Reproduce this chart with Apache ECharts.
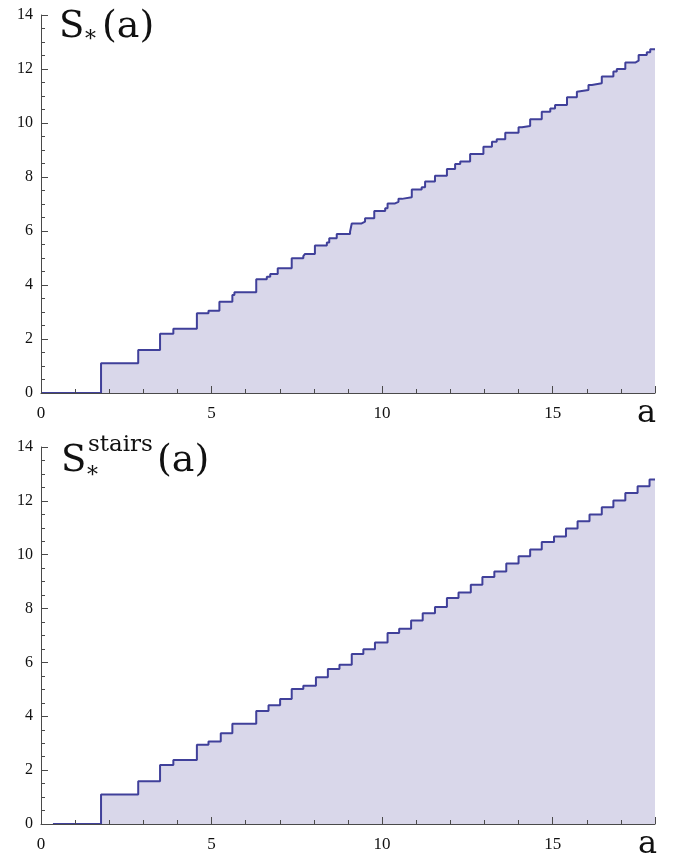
<!DOCTYPE html>
<html>
<head>
<meta charset="utf-8">
<script src="https://cdn.jsdelivr.net/npm/echarts@6/dist/echarts.min.js"></script>
<style>
html,body{margin:0;padding:0;background:#fff;}
#c{width:675px;height:857px;}
</style>
</head>
<body>
<div id="c"></div>
<script>
// S_*(a): jump positions (a) and the value reached at each jump
var topA = [0, 1.76, 2.85, 3.49, 3.88, 4.57, 4.91, 5.23, 5.61, 5.67, 6.31, 6.62, 6.72, 6.94, 7.35, 7.69, 7.74, 8.03, 8.38, 8.45, 8.67, 9.06, 9.11, 9.40, 9.50, 9.77, 10.09, 10.16, 10.38, 10.48, 10.58, 10.87, 11.16, 11.26, 11.55, 11.90, 12.14, 12.29, 12.58, 12.97, 13.22, 13.36, 13.61, 14.00, 14.10, 14.34, 14.68, 14.93, 15.07, 15.42, 15.71, 15.75, 16.05, 16.15, 16.44, 16.78, 16.88, 17.13, 17.42, 17.52, 17.76, 17.86, 18];
var topS = [0, 1.10, 1.59, 2.19, 2.38, 2.95, 3.05, 3.38, 3.63, 3.73, 4.21, 4.31, 4.41, 4.62, 4.99, 5.07, 5.15, 5.46, 5.57, 5.73, 5.89, 5.97, 6.28, 6.35, 6.47, 6.74, 6.84, 7.02, 7.08, 7.19, 7.25, 7.54, 7.62, 7.83, 8.05, 8.30, 8.48, 8.57, 8.85, 9.12, 9.31, 9.40, 9.64, 9.84, 9.89, 10.14, 10.42, 10.54, 10.67, 10.95, 11.16, 11.22, 11.41, 11.47, 11.72, 11.91, 12.00, 12.24, 12.31, 12.52, 12.62, 12.73, 12.73];

// S_*^stairs(a)
var botA = [0.35, 1.76, 2.85, 3.49, 3.88, 4.57, 4.91, 5.27, 5.61, 6.31, 6.67, 7.01, 7.35, 7.69, 8.06, 8.41, 8.75, 9.11, 9.45, 9.79, 10.16, 10.50, 10.85, 11.19, 11.55, 11.90, 12.24, 12.60, 12.94, 13.29, 13.64, 14.00, 14.34, 14.68, 15.04, 15.39, 15.73, 16.08, 16.44, 16.78, 17.13, 17.49, 17.84, 18];
var botS = [0, 1.10, 1.59, 2.19, 2.38, 2.94, 3.06, 3.37, 3.72, 4.20, 4.41, 4.64, 5.01, 5.13, 5.45, 5.76, 5.91, 6.31, 6.49, 6.74, 7.09, 7.25, 7.56, 7.83, 8.06, 8.39, 8.60, 8.88, 9.17, 9.38, 9.67, 9.94, 10.19, 10.47, 10.68, 10.97, 11.24, 11.49, 11.76, 12.01, 12.29, 12.54, 12.79, 12.79];

var xTicks = [0, 5, 10, 15];
var yTicks = [0, 2, 4, 6, 8, 10, 12, 14];

function pairs(a, b) { return a.map(function (v, i) { return [v, b[i]]; }); }

var LINE = '#40409a';
var FILL = '#d9d7ea';
var AX = '#4a4a4a';
var FONT = 'Liberation Serif';
var TFONT = '"DejaVu Serif"';

function xAxis(idx) {
  return {
    type: 'value', gridIndex: idx, min: 0, max: 18, interval: 5, z: 10,
    axisLine: { show: true, onZero: false, lineStyle: { color: AX, width: 1 } },
    axisTick: { show: true, inside: true, length: 7, lineStyle: { color: AX } },
    minorTick: { show: true, splitNumber: 5, length: 4, lineStyle: { color: AX } },
    splitLine: { show: false },
    axisLabel: { show: true, showMaxLabel: false, margin: 12, color: '#111', fontFamily: FONT, fontSize: 17,
      formatter: function (v) { return xTicks.indexOf(v) >= 0 ? String(v) : ''; } }
  };
}
function yAxis(idx) {
  return {
    type: 'value', gridIndex: idx, min: 0, max: 14, interval: 2, z: 10,
    axisLine: { show: true, lineStyle: { color: AX, width: 1 } },
    axisTick: { show: true, inside: true, length: 7, lineStyle: { color: AX } },
    minorTick: { show: true, splitNumber: 4, length: 4, lineStyle: { color: AX } },
    splitLine: { show: false },
    axisLabel: { show: true, margin: 8, color: '#111', fontFamily: FONT, fontSize: 16,
      formatter: function (v) { return yTicks.indexOf(v) >= 0 ? String(v) : ''; } }
  };
}
function series(idx, data) {
  return {
    type: 'line', xAxisIndex: idx, yAxisIndex: idx, step: 'end', data: data,
    symbol: 'none', smooth: false,
    lineStyle: { color: LINE, width: 2 },
    areaStyle: { color: FILL, opacity: 1 },
    z: 1
  };
}

var chart = echarts.init(document.getElementById('c'), null, { renderer: 'canvas' });
chart.setOption({
  animation: false,
  backgroundColor: '#ffffff',
  grid: [
    { left: 41, top: 15, width: 614, height: 378 },
    { left: 41, top: 447, width: 614, height: 377 }
  ],
  xAxis: [xAxis(0), xAxis(1)],
  yAxis: [yAxis(0), yAxis(1)],
  series: [series(0, pairs(topA, topS)), series(1, pairs(botA, botS))],
  graphic: [
    { type: 'text', left: 59, top: 9, style: { text: 'S', font: '37px ' + TFONT, fill: '#111' } },
    { type: 'text', left: 85, top: 29, style: { text: '*', font: '22px ' + TFONT, fill: '#111' } },
    { type: 'text', left: 102, top: 8, style: { text: '(a)', font: '38px ' + TFONT, fill: '#111' } },

    { type: 'text', left: 61, top: 443, style: { text: 'S', font: '37px ' + TFONT, fill: '#111' } },
    { type: 'text', left: 88, top: 434, style: { text: 'stairs', font: '23px ' + TFONT, fill: '#111' } },
    { type: 'text', left: 87, top: 465, style: { text: '*', font: '22px ' + TFONT, fill: '#111' } },
    { type: 'text', left: 157, top: 442, style: { text: '(a)', font: '38px ' + TFONT, fill: '#111' } },

    { type: 'text', left: 637, top: 398, style: { text: 'a', font: '32px ' + TFONT, fill: '#111' } },
    { type: 'text', left: 638, top: 829, style: { text: 'a', font: '32px ' + TFONT, fill: '#111' } }
  ]
});
</script>
</body>
</html>
